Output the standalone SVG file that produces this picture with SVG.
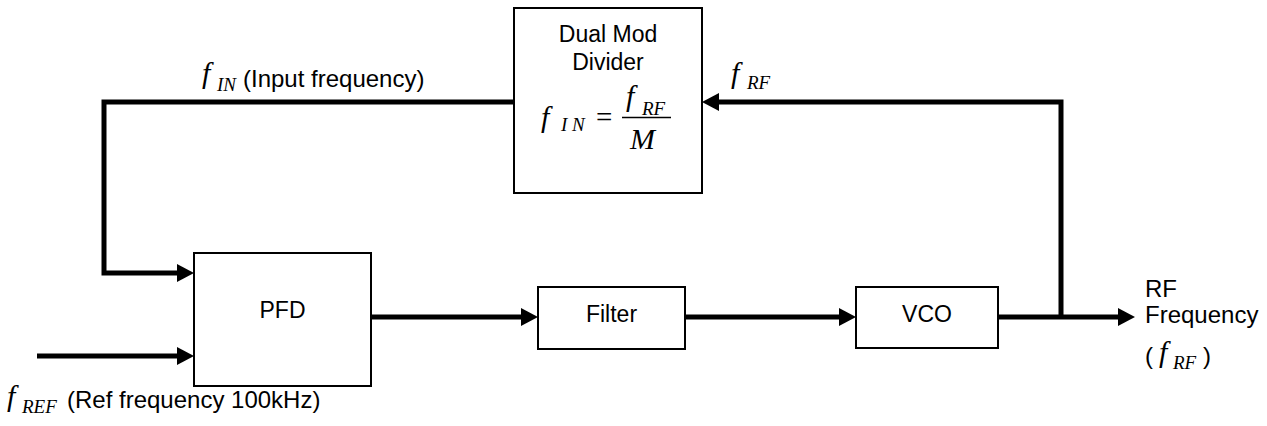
<svg xmlns="http://www.w3.org/2000/svg" width="1267" height="426" viewBox="0 0 1267 426">
<style>
.box{fill:#fff;stroke:#000;stroke-width:2}
.wire{fill:none;stroke:#000;stroke-width:5}
.head{fill:#000}
.t{font-family:"Liberation Sans",Arial,sans-serif;font-size:23px;fill:#000}
.lbl{font-family:"Liberation Sans",Arial,sans-serif;font-size:24px;fill:#000}
.m{font-family:"Liberation Serif","Times New Roman",serif;font-style:italic;fill:#000}
.f{font-size:30px}
.s{font-size:19px}
</style>
<rect width="1267" height="426" fill="#fff"/>
<g id="connectors">
<path class="wire" d="M1061,317 V102 H719"/>
<polygon class="head" points="702,102 719,93 719,111"/>
<path class="wire" d="M514,102 H104 V273 H177"/>
<polygon class="head" points="194,273 177,264 177,282"/>
<path class="wire" d="M37,356 H177"/>
<polygon class="head" points="194,356 177,347 177,365"/>
<path class="wire" d="M371,317 H521"/>
<polygon class="head" points="538,317 521,308 521,326"/>
<path class="wire" d="M685,317 H839"/>
<polygon class="head" points="856,317 839,308 839,326"/>
<path class="wire" d="M998,317 H1118"/>
<polygon class="head" points="1135,317 1118,308 1118,326"/>
</g>
<g id="divider">
<rect class="box" x="514" y="8" width="188" height="185"/>
<text class="t" x="608" y="42" text-anchor="middle">Dual Mod</text>
<text class="t" x="608" y="70" text-anchor="middle">Divider</text>
<text class="m f" x="541" y="127">f</text>
<text class="m s" x="561" y="131" xml:space="preserve">I N</text>
<text x="596" y="127" font-family="Liberation Serif,serif" font-size="29">=</text>
<text class="m f" x="626" y="106">f</text>
<text class="m s" x="642" y="115">RF</text>
<line x1="622" y1="117.5" x2="671" y2="117.5" stroke="#000" stroke-width="1.5"/>
<text class="m" x="630" y="149" font-size="30">M</text>
</g>
<g id="pfd">
<rect class="box" x="194" y="253" width="177" height="133"/>
<text class="t" x="282.5" y="318" text-anchor="middle">PFD</text>
</g>
<g id="filter">
<rect class="box" x="538" y="287" width="147" height="62"/>
<text class="t" x="611.5" y="322" text-anchor="middle">Filter</text>
</g>
<g id="vco">
<rect class="box" x="856" y="287" width="142" height="61"/>
<text class="t" x="927" y="322" text-anchor="middle">VCO</text>
</g>
<g id="labels">
<text class="m f" x="202" y="83">f</text>
<text class="m s" x="217" y="91">IN</text>
<text class="lbl" x="243" y="87">(Input frequency)</text>
<text class="m f" x="731" y="83">f</text>
<text class="m s" x="747" y="89">RF</text>
<text class="m f" x="7" y="406">f</text>
<text class="m s" x="22" y="413">REF</text>
<text class="lbl" x="67" y="408">(Ref frequency 100kHz)</text>
<text class="lbl" x="1145" y="297">RF</text>
<text class="lbl" x="1145" y="323">Frequency</text>
<text class="lbl" x="1145" y="364">(</text>
<text class="m f" x="1159" y="362">f</text>
<text class="m s" x="1173" y="369">RF</text>
<text class="lbl" x="1203" y="364">)</text>
</g>
</svg>
